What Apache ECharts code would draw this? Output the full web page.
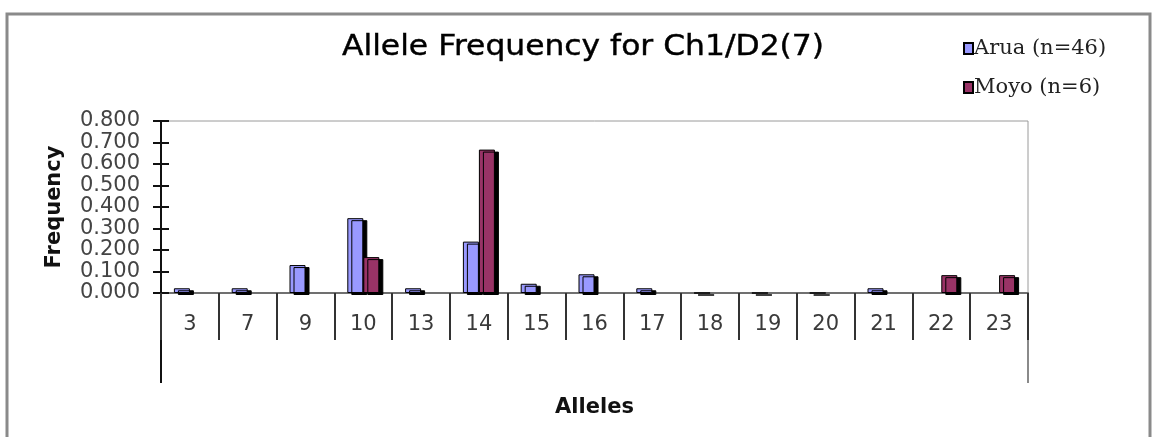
<!DOCTYPE html>
<html>
<head>
<meta charset="utf-8">
<script src="https://cdn.jsdelivr.net/npm/echarts@6/dist/echarts.min.js"></script>
<style>
  html, body { margin: 0; padding: 0; background: #ffffff; }
  #chart { width: 1155px; height: 437px; }
</style>
</head>
<body>
<div id="chart"></div>
<script>
// Allele categories and per-population frequencies (null = allele not observed)
const alleles = ['3', '7', '9', '10', '13', '14', '15', '16', '17', '18', '19', '20', '21', '22', '23'];
const arua = [0.022, 0.022, 0.130, 0.348, 0.022, 0.239, 0.043, 0.087, 0.022, 0, 0, 0, 0.022, null, null];
const moyo = [null, null, null, 0.167, null, 0.667, null, null, null, null, null, null, null, 0.083, 0.083];
const seriesNames = ['Arua (n=46)', 'Moyo (n=6)'];
const yTicks = { min: 0, max: 0.8, interval: 0.1 };
const chartTitle = 'Allele Frequency for Ch1/D2(7)';

const GRID = { left: 161, right: 127, top: 121, bottom: 144 };
const W = 1155, H = 437;
const axisFont = 'DejaVu Sans';

const barStyle = (color) => ({
  color: color,
  borderColor: '#000000',
  borderWidth: 1,
  shadowColor: '#000000',
  shadowBlur: 0,
  shadowOffsetX: 4,
  shadowOffsetY: 2
});

const chart = echarts.init(document.getElementById('chart'), null, { renderer: 'canvas' });

const x0 = GRID.left, x1 = W - GRID.right, yBase = H - GRID.bottom;

const valueAxisBase = {
  type: 'value',
  min: yTicks.min, max: yTicks.max, interval: yTicks.interval,
  position: 'left',
  splitLine: { show: false }
};

chart.setOption({
  animation: false,
  backgroundColor: '#ffffff',
  legend: {
    orient: 'vertical',
    left: 958, top: 33,
    itemGap: 18,
    itemWidth: 9, itemHeight: 11,
    icon: 'rect',
    textStyle: { fontFamily: 'DejaVu Serif', fontSize: 21, color: '#222222', padding: [0, 0, 0, -4] },
    data: seriesNames
  },
  grid: { left: GRID.left, right: GRID.right, top: GRID.top, bottom: GRID.bottom, show: true, borderColor: '#9a9a9a', borderWidth: 1, backgroundColor: 'transparent' },
  xAxis: {
    type: 'category',
    data: alleles,
    name: 'Alleles',
    nameLocation: 'middle',
    nameGap: 104,
    nameTextStyle: { fontFamily: axisFont, fontSize: 21, fontWeight: 'bold', color: '#111111' },
    axisLine: { lineStyle: { color: '#707070', width: 2 } },
    axisTick: { show: true, length: 47, lineStyle: { color: '#333333', width: 2 } },
    axisLabel: { fontFamily: axisFont, fontSize: 21, color: '#3a3a3a', margin: 21 }
  },
  yAxis: [
    Object.assign({}, valueAxisBase, {
      name: 'Frequency',
      nameLocation: 'middle',
      nameGap: 96,
      nameRotate: 90,
      nameTextStyle: { fontFamily: axisFont, fontSize: 21, fontWeight: 'bold', color: '#111111' },
      axisLine: { show: true, lineStyle: { color: '#111111', width: 2 } },
      axisTick: { show: true, inside: false, length: 8, lineStyle: { color: '#111111', width: 2 } },
      axisLabel: { fontFamily: axisFont, fontSize: 21, lineHeight: 14, color: '#444444', margin: 21, showMinLabel: true, showMaxLabel: true, hideOverlap: false, formatter: (v) => v.toFixed(3) }
    }),
    // inner half of the crossing tick marks
    Object.assign({}, valueAxisBase, {
      axisLine: { show: false },
      axisTick: { show: true, inside: true, length: 8, lineStyle: { color: '#111111', width: 2 } },
      axisLabel: { show: false }
    })
  ],
  series: [
    { name: seriesNames[0], type: 'bar', data: arua, barWidth: 16, barGap: '0%', itemStyle: barStyle('#9999ff') },
    { name: seriesNames[1], type: 'bar', data: moyo, barWidth: 16, barGap: '0%', itemStyle: barStyle('#993366') }
  ],
  graphic: [
    // outer chart-area frame
    { type: 'rect', shape: { x: 7, y: 14, width: 1143, height: 460 }, style: { fill: 'none', stroke: '#8a8a8a', lineWidth: 3 }, silent: true },
    // chart title, drawn slightly widened
    { type: 'text', x: 583, y: 48, scaleX: 1.12, silent: true,
      style: { text: chartTitle, font: '28px "DejaVu Sans"', fill: '#000000', stroke: '#000000', lineWidth: 0.4, textAlign: 'center', textVerticalAlign: 'middle' } },
    // extended ends of the category axis
    { type: 'line', shape: { x1: x0, y1: yBase, x2: x0, y2: yBase + 90 }, style: { stroke: '#111111', lineWidth: 2 }, silent: true },
    { type: 'line', shape: { x1: x1, y1: yBase, x2: x1, y2: yBase + 90 }, style: { stroke: '#8a8a8a', lineWidth: 2 }, silent: true }
  ]
});
</script>
</body>
</html>
